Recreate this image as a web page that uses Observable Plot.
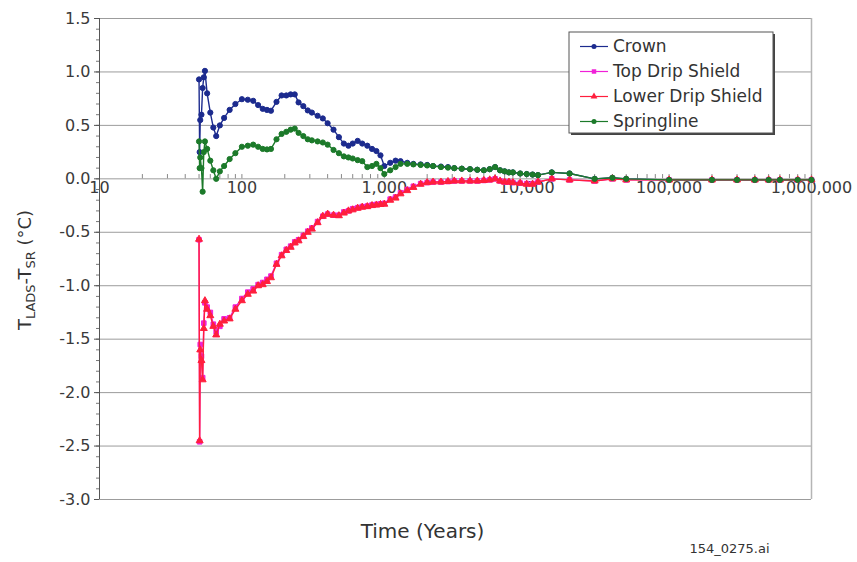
<!DOCTYPE html>
<html><head><meta charset="utf-8">
<script src="https://cdn.jsdelivr.net/npm/d3@7"></script>
<script src="https://cdn.jsdelivr.net/npm/@observablehq/plot@0.6"></script>
<style>
body{margin:0;background:#fff;}
#chart{position:relative;width:857px;height:562px;}
</style></head><body><div id="chart"></div>
<script>
// ---- data ----
const years = [50, 50.5, 51, 52, 53, 54, 55, 57, 60, 63,
  66, 70, 75, 82, 90, 100, 110, 120, 130, 140,
  150, 160, 175, 190, 205, 220, 235, 250, 270, 290,
  310, 340, 370, 400, 440, 480, 520, 560, 600, 650,
  700, 760, 820, 880, 940, 1000, 1100, 1200, 1300, 1450,
  1600, 1800, 2000, 2200, 2500, 2800, 3100, 3500, 4000, 4500,
  5000, 5500, 6000, 6500, 7000, 7500, 8000, 9000, 10000, 11000,
  12000, 15000, 20000, 30000, 40000, 50000, 100000, 200000, 300000, 400000,
  500000, 600000, 800000, 1000000];
const crown = [0.93, 0.25, 0.55, 0.60, 0.85, 0.95, 1.01, 0.80, 0.62, 0.48,
  0.40, 0.50, 0.57, 0.645, 0.70, 0.745, 0.74, 0.73, 0.69, 0.655,
  0.645, 0.637, 0.72, 0.78, 0.78, 0.79, 0.79, 0.715, 0.68, 0.64,
  0.62, 0.59, 0.565, 0.52, 0.46, 0.39, 0.33, 0.31, 0.33, 0.355,
  0.33, 0.31, 0.28, 0.26, 0.22, 0.12, 0.15, 0.17, 0.165, 0.15,
  0.14, 0.135, 0.13, 0.12, 0.115, 0.11, 0.10, 0.095, 0.09, 0.085,
  0.08, 0.09, 0.11, 0.08, 0.07, 0.06, 0.06, 0.05, 0.045, 0.04,
  0.035, 0.06, 0.05, 0.0, 0.01, 0.0, -0.01, -0.01, -0.01, -0.01,
  -0.01, -0.01, -0.01, -0.01];
const topDripShield = [-0.57, -2.46, -1.55, -1.66, -1.86, -1.35, -1.16, -1.20, -1.25, -1.36,
  -1.43, -1.38, -1.31, -1.30, -1.20, -1.12, -1.06, -1.03, -0.99, -0.97,
  -0.94, -0.91, -0.79, -0.71, -0.66, -0.63, -0.59, -0.57, -0.53, -0.49,
  -0.46, -0.40, -0.35, -0.33, -0.34, -0.34, -0.31, -0.30, -0.28, -0.27,
  -0.26, -0.255, -0.245, -0.24, -0.235, -0.23, -0.19, -0.17, -0.13, -0.10,
  -0.07, -0.045, -0.035, -0.03, -0.03, -0.025, -0.02, -0.02, -0.02, -0.02,
  -0.015, -0.01, 0.0, -0.02, -0.03, -0.03, -0.035, -0.04, -0.045, -0.045,
  -0.03, 0.0, -0.01, -0.02, 0.0, -0.01, -0.01, -0.01, -0.01, -0.01,
  -0.01, -0.01, -0.01, -0.01];
const lowerDripShield = [-0.565, -2.45, -1.60, -1.70, -1.88, -1.40, -1.14, -1.22, -1.28, -1.38,
  -1.46, -1.36, -1.33, -1.31, -1.22, -1.14, -1.08, -1.05, -1.00, -0.99,
  -0.96, -0.925, -0.80, -0.72, -0.67, -0.64, -0.60, -0.58, -0.54, -0.50,
  -0.47, -0.41, -0.35, -0.33, -0.34, -0.345, -0.32, -0.30, -0.29, -0.275,
  -0.265, -0.26, -0.25, -0.245, -0.24, -0.237, -0.20, -0.18, -0.14, -0.11,
  -0.08, -0.05, -0.035, -0.03, -0.03, -0.025, -0.02, -0.02, -0.02, -0.02,
  -0.015, -0.01, 0.0, -0.02, -0.03, -0.03, -0.035, -0.04, -0.05, -0.05,
  -0.03, 0.0, -0.01, -0.02, 0.0, -0.01, -0.01, -0.01, -0.01, -0.01,
  -0.01, -0.01, -0.01, -0.01];
const springline = [0.35, 0.10, 0.20, 0.10, -0.12, 0.25, 0.35, 0.28, 0.17, 0.08,
  0.00, 0.07, 0.12, 0.185, 0.24, 0.30, 0.31, 0.32, 0.30, 0.28,
  0.275, 0.28, 0.37, 0.42, 0.44, 0.46, 0.47, 0.43, 0.40, 0.37,
  0.36, 0.35, 0.34, 0.32, 0.27, 0.24, 0.21, 0.20, 0.19, 0.175,
  0.165, 0.11, 0.12, 0.14, 0.10, 0.045, 0.08, 0.11, 0.14, 0.14,
  0.135, 0.13, 0.125, 0.12, 0.11, 0.105, 0.10, 0.095, 0.09, 0.085,
  0.08, 0.09, 0.11, 0.08, 0.07, 0.06, 0.06, 0.05, 0.045, 0.04,
  0.035, 0.06, 0.05, 0.0, 0.01, 0.0, -0.01, -0.01, -0.01, -0.01,
  -0.01, -0.01, -0.01, -0.01];

const seriesNames = ["Crown", "Top Drip Shield", "Lower Drip Shield", "Springline"];
const seriesValues = [crown, topDripShield, lowerDripShield, springline];
const seriesColors = ["#1c2b8e", "#f020d8", "#ff1f3d", "#1c7a2a"];
const seriesSymbols = ["circle", "square", "triangle", "circle"];

const xTickValues = [10, 100, 1000, 10000, 100000, 1000000];
const xTickLabels = ["10", "100", "1,000", "10,000", "100,000", "1,000,000"];
const yTickValues = [1.5, 1.0, 0.5, 0.0, -0.5, -1.0, -1.5, -2.0, -2.5, -3.0];
const xTitle = "Time (Years)";
const fileTag = "154_0275.ai";

// ---- build ----
const FONT = "DejaVu Sans, Verdana, sans-serif";
const xMinor = [];
for (let e = 1; e < 6; e++) for (let m = 1; m < 10; m++) xMinor.push(m * 10 ** e);
xMinor.push(1e6);
const yMinor = d3.range(-30, 16).map(v => v / 10);

const seriesMarks = [];
seriesNames.forEach((name, s) => {
  const rows = years.map((t, i) => ({year: t, value: seriesValues[s][i], series: name}));
  seriesMarks.push(Plot.line(rows, {x: "year", y: "value", stroke: seriesColors[s], strokeWidth: 1.4}));
  seriesMarks.push(Plot.dot(rows, {x: "year", y: "value", fill: seriesColors[s], stroke: seriesColors[s], strokeWidth: 1, r: 2.6, symbol: seriesSymbols[s]}));
});

const plot = Plot.plot({
  width: 857, height: 562,
  marginLeft: 99, marginRight: 46, marginTop: 18, marginBottom: 63,
  x: {type: "log", domain: [10, 1e6], axis: null},
  y: {domain: [-3, 1.5], axis: null},
  style: {fontFamily: FONT, fontSize: "16px", color: "#333", background: "#fff"},
  marks: [
    Plot.gridY(yTickValues, {stroke: "#9c9c9c", strokeOpacity: 1, strokeWidth: 1}),
    Plot.ruleX([1e6], {stroke: "#b5b5b5", strokeWidth: 1.5}),
    Plot.ruleX(xMinor, {y1: 0, y2: 0.04, stroke: "#888"}),
    Plot.axisY(yMinor, {anchor: "left", tickSize: 3, tickFormat: () => "", label: null, stroke: "#777"}),
    Plot.axisY(yTickValues, {anchor: "left", tickSize: 5, tickPadding: 4, tickFormat: d => d.toFixed(1), label: null, fontSize: 16, fill: "#3a3a3a", stroke: "#555"}),
    Plot.ruleX([10], {stroke: "#555"}),
    Plot.text(xTickValues, {x: d => d, y: 0, text: (d, i) => xTickLabels[i], lineAnchor: "top", dy: 3, fontSize: 16, fill: "#3a3a3a"}),
    ...seriesMarks,
    Plot.text([xTitle], {frameAnchor: "bottom", dx: -33, dy: 38, fontSize: 20, fill: "#333"}),
    Plot.text([fileTag], {frameAnchor: "bottom-right", textAnchor: "end", dx: -42, dy: 53, fontSize: 13, fill: "#333"})
  ]
});
document.getElementById("chart").appendChild(plot);

// y-axis title with subscripts
const svg = d3.select(plot);
const yl = svg.append("text")
  .attr("transform", "translate(31,270) rotate(-90)")
  .attr("text-anchor", "middle")
  .attr("font-family", FONT).attr("font-size", 18).attr("fill", "#333");
yl.append("tspan").text("T");
yl.append("tspan").attr("font-size", 13).attr("dy", 4).text("LADS");
yl.append("tspan").attr("dy", -4).text("-T");
yl.append("tspan").attr("font-size", 13).attr("dy", 4).text("SR");
yl.append("tspan").attr("dy", -4).text(" (°C)");

// legend
const lg = svg.append("g").attr("transform", "translate(569,32)").attr("text-anchor", "start");
lg.append("rect").attr("x", 2).attr("y", 2).attr("width", 204).attr("height", 101).attr("fill", "#444");
lg.append("rect").attr("width", 204).attr("height", 101).attr("fill", "#fff").attr("stroke", "#555");
seriesNames.forEach((name, s) => {
  const y = 14.5 + s * 25;
  lg.append("line").attr("x1", 11).attr("x2", 39).attr("y1", y).attr("y2", y).attr("stroke", seriesColors[s]).attr("stroke-width", 1.2);
  lg.append("path").attr("transform", `translate(25,${y})`).attr("d", d3.symbol(seriesSymbols[s] === "square" ? d3.symbolSquare : seriesSymbols[s] === "triangle" ? d3.symbolTriangle : d3.symbolCircle, 20)()).attr("fill", seriesColors[s]);
  lg.append("text").attr("x", 44).attr("y", y).attr("dy", "0.35em").attr("text-anchor", "start").attr("font-family", FONT).attr("font-size", 17).attr("fill", "#333").text(name);
});
</script>
</body></html>
